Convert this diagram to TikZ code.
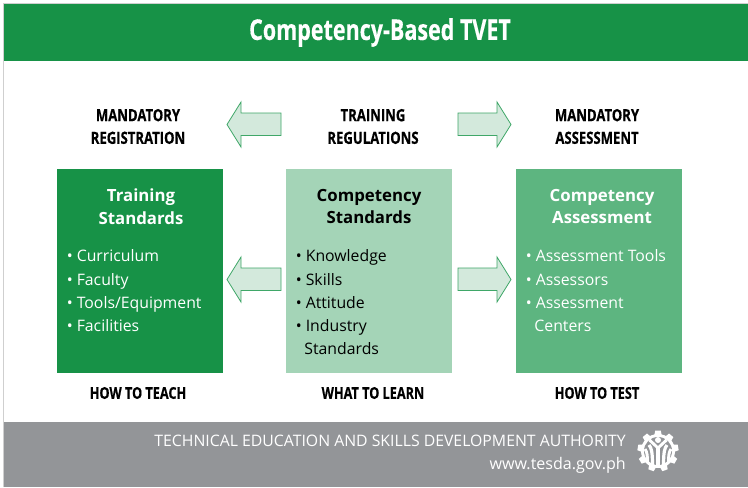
\documentclass[tikz,border=0pt]{standalone}
\usepackage{fontspec}
\setmainfont{Open Sans}
\newfontfamily\cond[FakeStretch=0.78,FakeBold=0.4]{Open Sans}
\newfontfamily\condtitle[FakeStretch=0.75,FakeBold=0.3]{Open Sans}
\definecolor{hdr}{HTML}{179247}
\definecolor{boxa}{HTML}{179247}
\definecolor{boxb}{HTML}{A4D4B7}
\definecolor{boxc}{HTML}{5DB580}
\definecolor{band}{HTML}{939598}
\definecolor{arrowfill}{HTML}{D3E9DC}
\definecolor{arrowline}{HTML}{3FA768}
\definecolor{frameline}{HTML}{CFCFCF}
\tikzset{
  panel/.style={minimum width=124.5pt,minimum height=153pt,anchor=north west,inner sep=0pt},
  capt/.style={font=\cond\bfseries\fontsize{12.6}{17}\selectfont,align=center,text=black,inner sep=0pt},
  captlow/.style={font=\cond\bfseries\fontsize{12.2}{17}\selectfont,align=center,text=black,inner sep=0pt},
  ptitle/.style={font=\bfseries\fontsize{12.6}{17}\selectfont,align=center,inner sep=0pt},
  plist/.style={font=\fontsize{11.85}{17.45}\selectfont,align=left,anchor=north west,inner sep=0pt},
  arrowshape/.style={draw=arrowline,fill=arrowfill,line width=.6pt,line join=miter},
  bandtext/.style={anchor=east,inner sep=0pt,text=white},
}
\begin{document}
\begin{tikzpicture}[x=.75pt,y=-.75pt]
\useasboundingbox (0,0) rectangle (748,487);
\fill[white] (0,0) rectangle (748,487);
\draw[frameline,line width=.75pt] (3.5,487) -- (3.5,3.5) -- (748,3.5);
\fill[hdr] (4,4) rectangle (748,61);
\node[inner sep=0pt,font=\condtitle\bfseries\fontsize{21.5}{24}\selectfont,text=white] (title) at (380,32.5) {Competency-Based TVET};
\fill[band] (4,422) rectangle (748,487);

\node[capt] (reg) at (138,126.5) {MANDATORY\\REGISTRATION};
\node[capt] (tr) at (373,126.5) {TRAINING\\REGULATIONS};
\node[capt] (ass) at (597,126.5) {MANDATORY\\ASSESSMENT};

\node[panel,fill=boxa] (ts) at (57,169) {};
\node[panel,fill=boxb] (cs) at (286,169) {};
\node[panel,fill=boxc] (ca) at (516,169) {};

\node[ptitle,text=white] (tst) at (141,206.5) {Training\\Standards};
\node[ptitle,text=black] (cst) at (369,206.5) {Competency\\Standards};
\node[ptitle,text=white] (cat) at (602,206.5) {Competency\\Assessment};

\node[plist,text=white] (tsl) at (66.5,249.5) {• Curriculum\\• Faculty\\• Tools/Equipment\\• Facilities};
\node[plist,text=black] (csl) at (295.5,249.5) {• Knowledge\\• Skills\\• Attitude\\• Industry\\\hspace*{6.5pt}Standards};
\node[plist,text=white] (cal) at (525.5,249.5) {• Assessment Tools\\• Assessors\\• Assessment\\\hspace*{6.5pt}Centers};

\node[captlow] (ht) at (138,393) {HOW TO TEACH};
\node[captlow] (wl) at (373,393) {WHAT TO LEARN};
\node[captlow] (hts) at (597,393) {HOW TO TEST};

\draw[arrowshape] (281,113) -- (241,113) -- (241,102) -- (227,124.5) -- (241,147) -- (241,135.5) -- (281,135.5) -- cycle;
\draw[arrowshape] (458,113) -- (497,113) -- (497,102) -- (511,124.5) -- (497,147) -- (497,135.5) -- (458,135.5) -- cycle;
\draw[arrowshape] (281,268) -- (241,268) -- (241,257) -- (227,279.5) -- (241,302) -- (241,290.5) -- (281,290.5) -- cycle;
\draw[arrowshape] (458,268) -- (497,268) -- (497,257) -- (511,279.5) -- (497,302) -- (497,290.5) -- (458,290.5) -- cycle;

\node[bandtext,font=\fontsize{11.85}{14}\selectfont] (ag) at (626,441) {TECHNICAL EDUCATION AND SKILLS DEVELOPMENT AUTHORITY};
\node[bandtext,font=\fontsize{12.05}{14}\selectfont] (web) at (626,465) {www.tesda.gov.ph};

% gear logo
\begin{scope}[shift={(658,451)}]
  \foreach \a in {0,40,...,320}
    \fill[white,rotate=\a] (-2.8,-20.5) -- (2.8,-20.5) -- (3.8,-15) -- (-3.8,-15) -- cycle;
  \fill[white] (0,0) circle[radius=17];
  \fill[band] (0,0) circle[radius=14];
  \fill[white] (0,-11) circle[radius=3];
  \draw[white,line width=2.2pt] (-8.5,-11) -- (0,-3) -- (8.5,-11);
  \draw[white,line width=2.6pt] (0,-3) -- (0,16);
  \draw[white,line width=2.4pt] (-9,-6) .. controls (-6.5,-3) and (-5.5,1) .. (-5.5,15);
  \draw[white,line width=2.4pt] (9,-6) .. controls (6.5,-3) and (5.5,1) .. (5.5,15);
  \draw[white,line width=2.2pt] (-13,-2) .. controls (-11,1) and (-10.5,4) .. (-10.5,11);
  \draw[white,line width=2.2pt] (13,-2) .. controls (11,1) and (10.5,4) .. (10.5,11);
\end{scope}
\end{tikzpicture}
\end{document}
